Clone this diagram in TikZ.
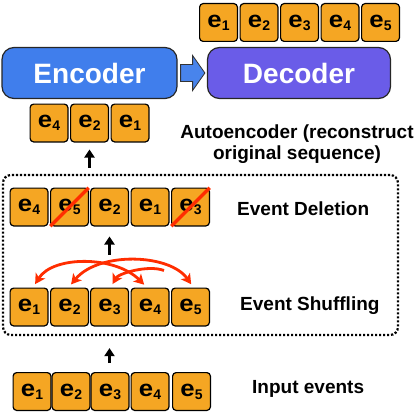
\documentclass[tikz,border=0pt]{standalone}
\usepackage{fontspec}
\usepackage{graphicx}
\setmainfont{Liberation Sans}
\usetikzlibrary{arrows.meta,calc}
\definecolor{evorange}{RGB}{245,166,35}
\definecolor{encblue}{RGB}{64,126,236}
\definecolor{arrblue}{RGB}{72,132,236}
\definecolor{decpurple}{RGB}{106,92,232}
\definecolor{cutred}{RGB}{255,45,0}
\newcommand{\evt}[1]{\scalebox{1.12}[1]{\fontsize{23}{23}\selectfont\bfseries e}\raisebox{-3pt}{\fontsize{14}{14}\selectfont\bfseries #1}}
\begin{document}
\begin{tikzpicture}[x=1pt,y=-1pt,
  evbox/.style={draw=black,line width=1.2pt,fill=evorange,rounded corners=3.5pt,
    minimum width=37.8pt,minimum height=37.8pt,inner sep=0pt},
  coder/.style={draw=black!85,line width=1.2pt,rounded corners=12pt,minimum height=51pt,
    inner sep=0pt,text=white,font=\fontsize{28}{28}\selectfont\bfseries},
  lbl/.style={anchor=base west,inner sep=0pt,font=\fontsize{19}{22}\selectfont\bfseries},
  upar/.style={draw=black,line width=2.3pt,-{Triangle[width=10pt,length=8pt]}},
  cut/.style={draw=cutred,line width=3.5pt},
  shuf/.style={draw=cutred,line width=2.8pt},
  shufhead/.tip={Stealth[width=11pt,length=10pt,inset=2.5pt]},
  grpbox/.style={draw=black,line width=2.2pt,dash pattern=on 2.2pt off 1.8pt,rounded corners=8pt,
    minimum width=395pt,minimum height=160pt,inner sep=0pt}
]
\useasboundingbox (0,0) rectangle (420,412);

% top output row
\foreach \i/\x in {1/218.5,2/259,3/299.5,4/340,5/380.5}{
  \node[evbox] (o\i) at (\x,22.5) {\evt{\i}};
}

% encoder / decoder
\node[coder,fill=encblue,minimum width=175pt] (enc) at (89.5,73) {Encoder};
\node[coder,fill=decpurple,minimum width=183pt] (dec) at (299,73) {Decoder};
\path[fill=arrblue,draw=black!80,line width=0.8pt]
  ($(enc.east)+(3,-8.5)$) -- ++(12,0) -- ++(0,-9) -- ($(dec.west)+(-2,0)$)
  -- ($(enc.east)+(15,17.5)$) -- ++(0,-9) -- ++(-12,0) -- cycle;

% encoder input row
\node[evbox] (a4) at (49,123) {\evt{4}};
\node[evbox] (a2) at (89.5,123) {\evt{2}};
\node[evbox] (a1) at (130,123) {\evt{1}};

\node[lbl,anchor=base] (aeA) at (297,138) {Autoencoder (reconstruct};
\node[lbl,anchor=base] (aeB) at (297,159) {original sequence)};

\draw[upar,shorten >=7pt] ($(a2.south)+(0,25)$) -- (a2.south);

% group box
\node[grpbox] (grp) at (200.5,255) {};

% deletion row
\node[evbox] (d1) at (29,207) {\evt{4}};
\node[evbox] (d2) at (69.5,207) {\evt{5}};
\node[evbox] (d3) at (109.5,207) {\evt{2}};
\node[evbox] (d4) at (150,207) {\evt{1}};
\node[evbox] (d5) at (190.5,207) {\evt{3}};
\draw[cut,shorten <=0.5pt,shorten >=0.5pt] (d2.south west) -- (d2.north east);
\draw[cut,shorten <=0.5pt,shorten >=0.5pt] (d5.south west) -- (d5.north east);
\node[lbl] (delL) at (237,215) {Event Deletion};

\draw[upar,shorten >=10pt] ($(d3.south)+(0,28)$) -- (d3.south);

% shuffling row
\foreach \i/\x in {1/29,2/69.5,3/109.5,4/150,5/190.5}{
  \node[evbox] (s\i) at (\x,307) {\evt{\i}};
}
\node[lbl] (shL) at (240,310) {Event Shuffling};

% shuffle arcs
\draw[shuf,shufhead-shufhead,shorten <=4pt,shorten >=4pt]
  ([xshift=4pt]s1.north) .. controls +(20,-32) and +(-32,-32) .. ([xshift=-3pt]s4.north);
\draw[shuf,shufhead-shufhead,shorten <=4pt,shorten >=4pt]
  ([xshift=-1pt]s2.north) .. controls +(30,-36) and +(-24,-34) .. ([xshift=3pt]s5.north);
\draw[shuf,-shufhead,shorten >=4pt]
  ($(s4.north)+(14,-17)$) .. controls +(-16,-6) and +(8,-14) .. ([xshift=1pt]s3.north);

% input row
\draw[upar,shorten <=9pt,shorten >=12pt] (109.5,372) coordinate (inTop) -- (inTop |- grp.south);
\foreach \i/\x in {1/32,2/71,3/110,4/150,5/191.5}{
  \node[evbox] (i\i) at (\x,391.5) {\evt{\i}};
}
\node[lbl] (inL) at (252,393) {Input events};
\end{tikzpicture}
\end{document}
